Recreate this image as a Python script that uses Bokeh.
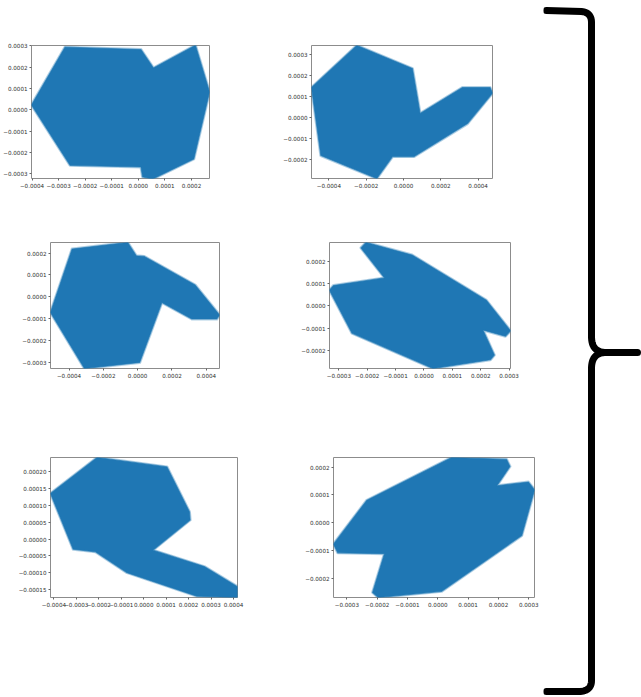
import numpy as np
from bokeh.plotting import figure
from bokeh.layouts import row, column
from bokeh.models import Range1d, FixedTicker, CustomJSTickFormatter
from bokeh.embed import file_html
from bokeh.resources import INLINE

# ---- polygon outlines of the six sampled regions ----
a_x = [-4.02e-4, -2.76e-4, 0.10e-4, 0.57e-4, 2.15e-4, 2.68e-4, 2.09e-4, 0.53e-4, 0.16e-4, 0.10e-4, -2.57e-4]
a_y = [0.23e-4, 2.94e-4, 2.83e-4, 1.96e-4, 3.03e-4, 0.84e-4, -2.30e-4, -3.25e-4, -3.14e-4, -2.68e-4, -2.60e-4]
a_xlim = [-4.02e-4, 2.68e-4]
a_ylim = [-3.22e-4, 3.02e-4]
a_xticks = [-4e-4, -3e-4, -2e-4, -1e-4, 0.0, 1e-4, 2e-4]
a_yticks = [-3e-4, -2e-4, -1e-4, 0.0, 1e-4, 2e-4, 3e-4]

b_x = [-4.93e-4, -2.50e-4, 0.48e-4, 0.89e-4, 3.16e-4, 4.64e-4, 4.77e-4, 3.43e-4, 0.57e-4, -0.59e-4, -1.43e-4, -4.43e-4]
b_y = [1.43e-4, 3.42e-4, 2.33e-4, 0.20e-4, 1.43e-4, 1.43e-4, 1.17e-4, -0.28e-4, -1.84e-4, -1.84e-4, -2.88e-4, -1.79e-4]
b_xlim = [-4.93e-4, 4.77e-4]
b_ylim = [-2.88e-4, 3.42e-4]
b_xticks = [-4e-4, -2e-4, 0.0, 2e-4, 4e-4]
b_yticks = [-2e-4, -1e-4, 0.0, 1e-4, 2e-4, 3e-4]

c_x = [-5.08e-4, -3.82e-4, -0.58e-4, -0.08e-4, 0.39e-4, 3.35e-4, 4.77e-4, 4.61e-4, 3.16e-4, 1.41e-4, 0.12e-4, -3.10e-4]
c_y = [-0.72e-4, 2.19e-4, 2.49e-4, 1.88e-4, 1.85e-4, 0.54e-4, -0.84e-4, -1.02e-4, -1.02e-4, -0.26e-4, -3.01e-4, -3.29e-4]
c_xlim = [-5.08e-4, 4.77e-4]
c_ylim = [-3.29e-4, 2.49e-4]
c_xticks = [-4e-4, -2e-4, 0.0, 2e-4, 4e-4]
c_yticks = [-3e-4, -2e-4, -1e-4, 0.0, 1e-4, 2e-4]

d_x = [-3.33e-4, -3.19e-4, -1.39e-4, -2.22e-4, -2.04e-4, -0.42e-4, 2.20e-4, 3.05e-4, 2.87e-4, 2.08e-4, 2.48e-4, 2.34e-4, 0.32e-4, -2.54e-4]
d_y = [0.70e-4, 0.91e-4, 1.25e-4, 2.59e-4, 2.83e-4, 2.27e-4, 0.25e-4, -1.11e-4, -1.35e-4, -1.07e-4, -2.19e-4, -2.40e-4, -2.79e-4, -1.21e-4]
d_xlim = [-3.33e-4, 3.05e-4]
d_ylim = [-2.79e-4, 2.83e-4]
d_xticks = [-3e-4, -2e-4, -1e-4, 0.0, 1e-4, 2e-4, 3e-4]
d_yticks = [-2e-4, -1e-4, 0.0, 1e-4, 2e-4]

e_x = [-4.15e-4, -2.07e-4, 1.04e-4, 2.04e-4, 2.07e-4, 0.41e-4, 2.70e-4, 4.18e-4, 4.18e-4, 2.37e-4, -0.74e-4, -2.15e-4, -3.14e-4]
e_y = [1.36e-4, 2.43e-4, 2.15e-4, 0.81e-4, 0.57e-4, -0.33e-4, -0.82e-4, -1.42e-4, -1.74e-4, -1.70e-4, -1.00e-4, -0.38e-4, -0.30e-4]
e_xlim = [-4.15e-4, 4.18e-4]
e_ylim = [-1.74e-4, 2.43e-4]
e_xticks = [-4e-4, -3e-4, -2e-4, -1e-4, 0.0, 1e-4, 2e-4, 3e-4, 4e-4]
e_yticks = [-1.5e-4, -1e-4, -0.5e-4, 0.0, 0.5e-4, 1e-4, 1.5e-4, 2e-4]

f_x = [-3.44e-4, -2.34e-4, 0.46e-4, 2.27e-4, 2.38e-4, 1.95e-4, 2.99e-4, 3.19e-4, 2.77e-4, 0.13e-4, -1.96e-4, -2.15e-4, -1.76e-4, -3.30e-4]
f_y = [-0.76e-4, 0.81e-4, 2.34e-4, 2.27e-4, 2.02e-4, 1.33e-4, 1.46e-4, 1.18e-4, -0.45e-4, -2.45e-4, -2.67e-4, -2.49e-4, -1.10e-4, -1.07e-4]
f_xlim = [-3.44e-4, 3.19e-4]
f_ylim = [-2.67e-4, 2.34e-4]
f_xticks = [-3e-4, -2e-4, -1e-4, 0.0, 1e-4, 2e-4, 3e-4]
f_yticks = [-2e-4, -1e-4, 0.0, 1e-4, 2e-4]

BLUE = "#1f77b4"
FONT = "DejaVu Sans"


def fmt(digits):
    return CustomJSTickFormatter(
        code=f"var s = tick.toFixed({digits}); return s.replace('-', '\u2212');")


def panel(xs, ys, xlim, ylim, xticks, yticks, ydigits,
          cell_w, cell_h, left, top, fw, fh):
    p = figure(width=cell_w, height=cell_h,
               x_range=Range1d(*xlim), y_range=Range1d(*ylim),
               output_backend="svg", toolbar_location=None,
               min_border_left=left, min_border_top=top,
               min_border_right=cell_w - left - fw,
               min_border_bottom=cell_h - top - fh)
    # soft rim first, then the solid body of the region
    p.patch(xs, ys, fill_color=None, line_color=BLUE,
            line_width=3, line_alpha=0.35, line_join="round")
    p.patch(xs, ys, fill_color=BLUE, line_color=BLUE,
            line_width=1.2, line_alpha=0.7, line_join="round")
    p.grid.visible = False
    p.outline_line_color = "#8c8c8c"
    p.outline_line_width = 1
    p.xaxis.ticker = FixedTicker(ticks=xticks)
    p.yaxis.ticker = FixedTicker(ticks=yticks)
    p.xaxis.formatter = fmt(4)
    p.yaxis.formatter = fmt(ydigits)
    for ax in (p.xaxis, p.yaxis):
        ax.axis_line_color = None
        ax.major_tick_line_color = "#666666"
        ax.major_tick_out = 2
        ax.major_tick_in = 0
        ax.minor_tick_line_color = None
        ax.major_label_standoff = 2
        ax.major_label_text_font = FONT
        ax.major_label_text_font_size = "5.6px"
        ax.major_label_text_color = "#2e2e2e"
    return p


p1 = panel(a_x, a_y, a_xlim, a_ylim, a_xticks, a_yticks, 4, 270, 210, 29, 43, 180, 135)
p2 = panel(b_x, b_y, b_xlim, b_ylim, b_xticks, b_yticks, 4, 273, 210, 41, 45, 181, 135)
p3 = panel(c_x, c_y, c_xlim, c_ylim, c_xticks, c_yticks, 4, 270, 210, 50, 32, 169, 126)
p4 = panel(d_x, d_y, d_xlim, d_ylim, d_xticks, d_yticks, 4, 273, 210, 59, 25, 181, 134)
p5 = panel(e_x, e_y, e_xlim, e_ylim, e_xticks, e_yticks, 5, 270, 277, 50, 37, 187, 140)
p6 = panel(f_x, f_y, f_xlim, f_ylim, f_xticks, f_yticks, 4, 273, 277, 63, 32, 201, 149)


# ---- the large curly brace on the right ----
def quad(p0, c, p1, n=16):
    t = np.linspace(0, 1, n)[:, None]
    a, b, d = map(np.array, (p0, c, p1))
    return (1 - t) ** 2 * a + 2 * (1 - t) * t * b + t ** 2 * d

upper = np.vstack([
    [[546, 10]], [[581, 11]],
    quad((581, 11), (591, 12), (591, 22)),
    [[591, 336]],
    quad((591, 336), (591, 351), (604, 352)),
    [[637, 352]],
])
lower = np.vstack([
    [[604, 352]],
    quad((604, 352), (591, 353), (591, 368)),
    [[591, 680]],
    quad((591, 680), (591, 690), (580, 691)),
    [[546, 691]],
])

pb = figure(width=98, height=697, x_range=Range1d(543, 641),
            y_range=Range1d(697, 0), output_backend="svg",
            toolbar_location=None, min_border=0)
for seg in (upper, lower):
    pb.line(seg[:, 0], seg[:, 1], line_color="black", line_width=7,
            line_cap="round", line_join="round")
pb.axis.visible = False
pb.grid.visible = False
pb.outline_line_color = None

layout = row(column(row(p1, p2), row(p3, p4), row(p5, p6)), pb)

open("out.html", "w").write(file_html(layout, INLINE))
